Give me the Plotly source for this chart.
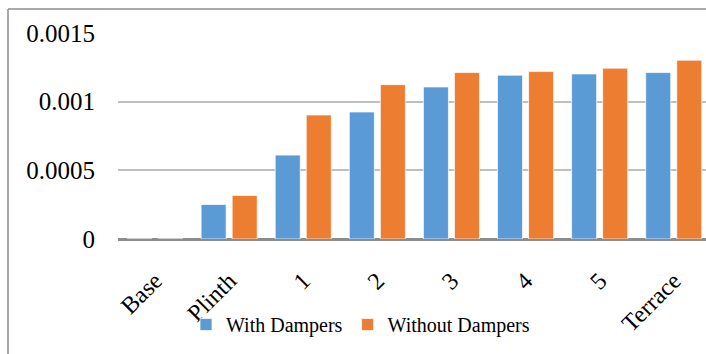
import plotly.graph_objects as go

categories = ["Base", "Plinth", "1", "2", "3", "4", "5", "Terrace"]
with_dampers = [0, 0.000251, 0.000611, 0.000925, 0.001107, 0.001193, 0.001202, 0.001212]
without_dampers = [0, 0.000317, 0.000903, 0.001124, 0.001212, 0.001219, 0.001244, 0.001302]
y_ticks = [0, 0.0005, 0.001, 0.0015]
y_tick_text = ["0", "0.0005", "0.001", "0.0015"]

W, H = 706, 354
L, T, B = 118, 33, 115
cat_px = 74.1
plot_w = W - L
plot_h = H - T - B

fig = go.Figure()
fig.add_trace(go.Bar(name="With Dampers", x=categories, y=with_dampers,
                     marker=dict(color="#5B9BD5", line=dict(color="rgba(255,255,255,0.7)", width=1))))
fig.add_trace(go.Bar(name="Without Dampers", x=categories, y=without_dampers,
                     marker=dict(color="#ED7D31", line=dict(color="rgba(255,255,255,0.7)", width=1))))

font_family = "Liberation Serif, Times New Roman, serif"

fig.update_layout(
    width=W, height=H,
    margin=dict(l=L, r=0, t=T, b=B, pad=0),
    paper_bgcolor="white", plot_bgcolor="white",
    barmode="group", bargap=0.162, bargroupgap=0.194,
    font=dict(family=font_family, color="#000000"),
    showlegend=True,
    legend=dict(orientation="h", x=(186 - L) / plot_w, xanchor="left",
                y=-(305 - (H - B)) / plot_h, yanchor="top",
                bgcolor="rgba(0,0,0,0)",
                font=dict(size=20, family=font_family), itemwidth=30,
                traceorder="normal"),
    xaxis=dict(type="category", range=[-0.5, -0.5 + plot_w / cat_px],
               tickangle=-45, tickfont=dict(size=24, family=font_family),
               showgrid=False, showline=False, ticks="", zeroline=False,
               ticklabelstandoff=22),
    yaxis=dict(range=[0, 0.0015], tickvals=y_ticks, ticktext=y_tick_text,
               tickfont=dict(size=25, family=font_family),
               showgrid=True, gridcolor="#BFBFBF", gridwidth=1.5,
               zeroline=True, zerolinecolor="#8C8C8C", zerolinewidth=2.5,
               showline=False, ticks="", ticklabelstandoff=22),
    shapes=[
        dict(type="line", xref="paper", yref="paper",
             x0=-(L - 8) / plot_w, x1=1.05, y0=1 + (T - 9) / plot_h, y1=1 + (T - 9) / plot_h,
             line=dict(color="#8C8C8C", width=1.5)),
        dict(type="line", xref="paper", yref="paper",
             x0=-(L - 8) / plot_w, x1=-(L - 8) / plot_w, y0=-2, y1=1 + (T - 9) / plot_h,
             line=dict(color="#8C8C8C", width=1.5)),
    ],
)

fig.write_html("out.html")
